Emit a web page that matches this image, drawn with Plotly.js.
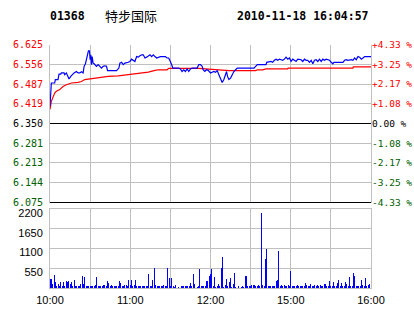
<!DOCTYPE html>
<html><head><meta charset="utf-8">
<script src="https://cdn.plot.ly/plotly-3.0.1.min.js"></script>
<style>html,body{margin:0;padding:0;background:#fff;}#chart{width:414px;height:314px;}</style>
</head><body><div id="chart"></div>
<script>
const stockCode = "01368";
const stockName = "特步国际";
const stamp = "2010-11-18 16:04:57";
const preClose = 6.350;
const priceTicks = [6.075,6.144,6.213,6.281,6.350,6.419,6.487,6.556,6.625];
const pctTicks = ["-4.33 %","-3.25 %","-2.17 %","-1.08 %","0.00 %","+1.08 %","+2.17 %","+3.25 %","+4.33 %"];
const timeTickVals = [0,30,60,90,120,150,180,210,240];
const timeTickText = ["10:00","","11:00","","12:00","","15:00","","16:00"];
const volTicks = [550,1100,1650,2200];

const priceMinutes = [0,1,3.5,4,6,6.75,8,8.5,10.5,11,12.25,13.5,14.25,15.5,16.5,18,19.75,21,22.25,23.5,24.75,25.5,26.5,27.25,28,28.75,29.5,30,30.5,31,31.5,32.25,33,33.75,34.75,36,37.25,38.5,39.75,41,42.25,43,49.75,50.5,51.5,52.25,53.5,54.75,56,58.5,59.75,61,62.25,63.5,64.75,66,67.25,68.5,69.75,71,72.25,73.5,74.75,76,77.25,78.5,79.75,82.5,86.25,87.5,88.75,90,90.75,91.25,91.75,96.25,97.5,98.75,100,101.25,102.5,103.75,105,106.25,110,111.25,112.5,113.75,114.5,115.75,117,118.25,120,121.25,122.5,123.75,125,126.25,127.5,128.75,130,131.25,132,132.75,133.75,135,136.25,137.5,138.75,140,152.5,153.75,155,161.5,162,165.25,166.5,167.75,169,170.25,171.5,172.75,174,175.25,176.5,177.75,179,180.25,181.5,182.75,184,185.25,186.5,187.75,189,190.25,191.5,192.75,194,195.25,196.5,197.75,199,200.25,201.5,202.75,204,205.25,206.5,207.75,209,210.25,211.5,212.25,219,220.25,221.5,222.75,225.25,226.5,227.75,229,230.25,231.5,232.75,234,235.25,240];
const prices = [6.410,6.491,6.491,6.503,6.503,6.522,6.522,6.526,6.526,6.520,6.526,6.514,6.505,6.514,6.520,6.526,6.531,6.526,6.526,6.530,6.526,6.549,6.558,6.572,6.589,6.603,6.603,6.572,6.589,6.555,6.583,6.560,6.558,6.555,6.549,6.555,6.547,6.543,6.549,6.551,6.549,6.534,6.534,6.540,6.543,6.560,6.563,6.555,6.560,6.563,6.566,6.574,6.570,6.566,6.583,6.581,6.586,6.589,6.589,6.578,6.581,6.586,6.589,6.583,6.589,6.583,6.578,6.583,6.583,6.578,6.578,6.566,6.560,6.551,6.543,6.543,6.540,6.531,6.537,6.531,6.540,6.531,6.540,6.543,6.543,6.555,6.555,6.549,6.537,6.531,6.537,6.535,6.526,6.528,6.531,6.528,6.534,6.520,6.508,6.493,6.503,6.526,6.531,6.514,6.503,6.508,6.520,6.531,6.537,6.543,6.543,6.549,6.555,6.555,6.563,6.566,6.563,6.570,6.574,6.570,6.574,6.572,6.570,6.574,6.581,6.574,6.578,6.566,6.574,6.570,6.566,6.574,6.572,6.572,6.566,6.574,6.570,6.570,6.563,6.570,6.558,6.570,6.572,6.566,6.574,6.566,6.574,6.570,6.574,6.572,6.570,6.563,6.558,6.563,6.563,6.570,6.572,6.570,6.572,6.570,6.578,6.572,6.583,6.581,6.574,6.578,6.583,6.583];

const avgMinutes = [0,1,3.5,4.75,7.25,9.75,12.25,16,21,23.5,26,31,36,43.5,51,58.5,66,73.5,78.5,81,87.5,88.75,111.25,118.75,131.25,133.75,153.75,155,159,161.5,177.75,178,226.5,226.75,240];
const avgPrices = [6.399,6.427,6.456,6.462,6.468,6.479,6.485,6.491,6.493,6.496,6.503,6.506,6.510,6.514,6.516,6.521,6.526,6.529,6.535,6.537,6.537,6.542,6.542,6.540,6.537,6.534,6.534,6.537,6.537,6.540,6.540,6.543,6.543,6.547,6.547];

const volumes = [260,260,111,371,167,46,120,46,167,56,167,65,204,167,195,120,167,46,232,65,
65,65,46,111,343,111,297,46,65,65,65,46,65,65,84,316,65,65,65,65,
74,93,46,204,139,46,93,65,65,65,65,65,204,139,46,65,74,93,65,232,
93,223,46,74,232,65,46,65,65,46,65,65,46,65,399,46,65,232,566,84,
65,46,46,65,65,84,65,46,566,288,65,288,46,20,93,0,28,0,65,65,
65,65,65,46,65,148,65,399,111,0,28,65,538,65,65,65,65,204,204,343,
399,538,65,297,28,46,111,65,566,872,28,93,260,46,176,288,28,111,427,28,
0,65,0,28,65,28,343,343,65,65,65,93,93,93,65,46,93,46,2097,93,
65,817,1095,65,65,65,65,46,65,195,223,1039,65,93,65,93,46,65,93,65,
483,65,65,65,65,93,65,46,65,65,65,139,84,65,46,120,46,65,84,46,
93,65,84,65,65,120,111,46,65,186,65,46,167,65,46,139,223,65,148,65,
46,167,111,65,316,65,65,418,343,65,65,65,46,223,93,65,278,65,84,111,93];
const volMinutes = volumes.map((v, i) => i);

const up = "#ff0000", down = "#006000", flat = "#000000", gridC = "#c0c0c0";
function tickColor(p){ return p > preClose + 1e-9 ? up : (p < preClose - 1e-9 ? down : flat); }
const leftText = priceTicks.map(p => '<span style="color:' + tickColor(p) + '">' + p.toFixed(3) + '</span>');
const rightText = priceTicks.map((p, i) => '<span style="color:' + tickColor(p) + '">' + pctTicks[i] + '</span>');

const data = [
  {x: avgMinutes, y: avgPrices, type: 'scatter', mode: 'lines', line: {color: '#ff0000', width: 1.2}, xaxis: 'x', yaxis: 'y', hoverinfo: 'skip'},
  {x: priceMinutes, y: prices, type: 'scatter', mode: 'lines', line: {color: '#0000ff', width: 1.2}, xaxis: 'x', yaxis: 'y', hoverinfo: 'skip'},
  {x: priceMinutes, y: prices, type: 'scatter', mode: 'lines', line: {color: 'rgba(0,0,0,0)', width: 0}, xaxis: 'x', yaxis: 'y2', hoverinfo: 'skip'},
  {x: volMinutes, y: volumes, type: 'bar', marker: {color: '#0000ff', line: {width: 0}}, width: 0.75, xaxis: 'x2', yaxis: 'y3', hoverinfo: 'skip'}
];

const monoFont = {family: 'DejaVu Sans Mono', size: 10, color: '#000'};
const arialFont = {family: 'Liberation Sans, Arial', size: 11, color: '#000'};
const priceDomain = [0.99795 - 158/244, 0.99795];

const layout = {
  width: 414, height: 314,
  margin: {l: 50, r: 43, t: 44, b: 26, pad: 0},
  paper_bgcolor: '#ffffff', plot_bgcolor: '#ffffff',
  showlegend: false,
  font: monoFont,
  xaxis: {domain: [0, 1], range: [0, 240], anchor: 'y', tickvals: timeTickVals, showticklabels: false, ticks: '',
          showgrid: true, gridcolor: gridC, gridwidth: 1, showline: false, zeroline: false, fixedrange: true},
  yaxis: {domain: priceDomain, range: [6.075, 6.625], tickvals: priceTicks, ticktext: leftText, tickfont: monoFont, ticks: '',
          showgrid: true, gridcolor: gridC, gridwidth: 1, showline: true, linecolor: gridC, linewidth: 1, mirror: true, zeroline: false, ticklabelstandoff: 4, fixedrange: true},
  yaxis2: {overlaying: 'y', side: 'right', anchor: 'x', range: [6.075, 6.625], tickvals: priceTicks, ticktext: rightText, tickfont: {family: 'DejaVu Sans Mono', size: 9.5, color: '#000'},
           ticks: '', showgrid: false, showline: false, zeroline: false, ticklabelstandoff: 0, fixedrange: true},
  xaxis2: {domain: [0, 1], range: [0, 240], anchor: 'y3', tickvals: timeTickVals, ticktext: timeTickText, tickfont: arialFont, ticks: '',
           showgrid: true, gridcolor: gridC, gridwidth: 1, showline: true, linecolor: gridC, linewidth: 1, mirror: true, zeroline: false, ticklabelstandoff: 2, fixedrange: true},
  yaxis3: {domain: [0, 0.3238], range: [0, 2200], tickvals: volTicks, tickfont: arialFont, ticks: '',
           showgrid: true, gridcolor: gridC, gridwidth: 1, showline: true, linecolor: gridC, linewidth: 1, mirror: true, zeroline: false, ticklabelstandoff: 4, ticklabelshift: 4, fixedrange: true},
  bargap: 0,
  shapes: [
    {type: 'line', xref: 'x domain', x0: 0, x1: 1, yref: 'y', y0: preClose, y1: preClose, line: {color: '#000', width: 1}, layer: 'above'},
    {type: 'line', xref: 'x domain', x0: 0, x1: 1, yref: 'y domain', y0: 0, y1: 0, line: {color: '#000', width: 1}, layer: 'above'}
  ],
  annotations: [
    {xref: 'paper', yref: 'paper', x: 0, y: 1.113, xanchor: 'left', yanchor: 'middle', xshift: -2, showarrow: false, text: '<b>' + stockCode + '</b>', font: {family: 'DejaVu Sans Mono', size: 11.5, color: '#000'}},
    {xref: 'paper', yref: 'paper', x: 0.1713, y: 1.116, xanchor: 'left', yanchor: 'middle', xshift: -2, showarrow: false, text: stockName, font: {family: 'Noto Sans CJK SC', size: 13, color: '#000'}},
    {xref: 'paper', yref: 'paper', x: 0.9953, y: 1.113, xanchor: 'right', yanchor: 'middle', xshift: 2, showarrow: false, text: '<b>' + stamp + '</b>', font: {family: 'DejaVu Sans Mono', size: 11.5, color: '#000'}}
  ]
};

Plotly.newPlot('chart', data, layout, {staticPlot: true, displayModeBar: false});
</script>
</body></html>
